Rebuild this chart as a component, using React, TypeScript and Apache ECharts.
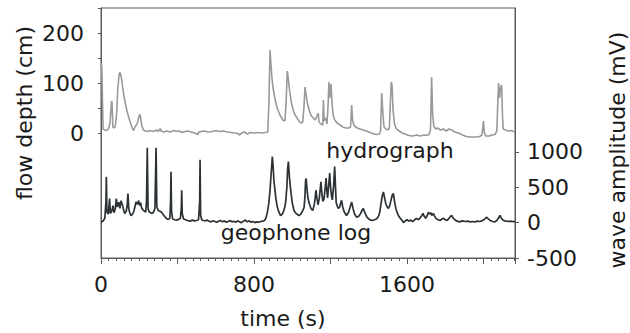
import React, { useEffect, useRef } from "react";
import * as echarts from "echarts";

// ---- data ----
const hydroTime = [0,4,8,11,20,30,40,47,55,58,62,68,75,82,88,95,100,106,113,120,128,136,146,156,165,171,177,185,192,199,204,208,214,222,232,245,258,272,290,300,310,314,330,345,360,380,395,410,425,440,455,470,490,505,512,525,540,560,580,600,620,640,660,680,700,715,725,735,750,765,780,800,820,840,860,872,878,884,889,894,900,908,916,926,936,945,950,962,968,974,979,986,995,1005,1015,1025,1035,1045,1055,1061,1067,1072,1080,1090,1100,1110,1120,1127,1136,1140,1150,1160,1163,1167,1172,1176,1182,1188,1192,1196,1203,1208,1214,1222,1235,1250,1265,1280,1295,1305,1311,1316,1325,1340,1355,1370,1380,1400,1420,1440,1455,1462,1468,1474,1480,1490,1500,1508,1513,1518,1522,1527,1535,1545,1560,1575,1590,1610,1630,1650,1670,1690,1700,1715,1723,1729,1734,1740,1750,1760,1775,1790,1805,1820,1835,1850,1870,1890,1910,1930,1950,1960,1980,1992,1996,2000,2004,2012,2030,2045,2060,2070,2075,2079,2084,2089,2095,2099,2103,2115,2130,2145,2165];
const hydroDepth = [140,132,60,8,6,5,9,20,64,60,12,10,14,40,90,118,121,112,92,74,58,44,30,18,8,5,12,16,22,34,37,28,14,6,4,3,5,3,6,3,9,4,2,4,2,5,3,4,1,3,4,2,0,-3,2,3,4,2,3,5,3,4,2,1,0,-1,-4,0,2,-2,1,0,1,0,1,2,60,166,136,110,90,72,58,45,36,30,26,24,60,124,110,86,62,46,36,30,24,20,22,50,92,78,58,44,34,30,26,32,40,22,18,16,66,24,28,30,18,60,102,70,98,60,36,26,20,16,12,10,10,12,56,24,14,10,8,6,5,2,-1,-3,-2,4,80,40,12,8,6,10,60,102,96,46,18,8,4,0,-2,-5,-6,-4,-6,-4,-5,-3,6,112,40,14,8,10,6,8,4,8,6,2,0,-4,-7,-8,-8,-8,-7,-4,8,24,2,-6,-6,-4,-3,4,60,100,70,90,96,40,8,6,4,5,2];

const geoTime = [0,10,20,26,28,31,38,45,49,56,63,68,75,80,85,93,99,105,112,118,124,132,137,141,145,151,157,165,172,178,183,190,197,202,207,213,220,228,234,238,242,246,252,260,268,275,282,288,292,300,308,317,326,335,343,352,360,364,366,369,375,385,395,405,415,420,422,425,432,442,452,465,478,490,500,510,516,518,521,527,535,545,555,565,575,585,595,605,615,625,635,645,655,665,675,685,695,705,715,725,735,745,755,765,775,785,795,805,815,825,835,845,855,862,870,877,884,890,896,900,904,908,914,922,930,939,948,956,962,966,972,976,980,985,992,1000,1009,1020,1035,1045,1055,1062,1066,1070,1073,1077,1082,1089,1098,1107,1115,1120,1124,1130,1135,1142,1150,1155,1160,1166,1172,1177,1181,1185,1190,1196,1200,1205,1210,1216,1222,1226,1230,1240,1248,1254,1258,1264,1272,1284,1295,1303,1311,1318,1326,1337,1348,1358,1366,1372,1378,1390,1400,1410,1420,1430,1440,1450,1458,1465,1471,1477,1483,1490,1497,1503,1510,1517,1523,1529,1535,1542,1549,1555,1565,1575,1581,1590,1600,1610,1620,1630,1640,1650,1660,1670,1678,1684,1690,1698,1706,1712,1718,1724,1730,1738,1745,1752,1762,1773,1783,1792,1800,1810,1820,1828,1834,1840,1850,1862,1877,1890,1905,1918,1930,1942,1955,1968,1980,1992,2002,2010,2017,2024,2035,2048,2060,2070,2078,2086,2092,2100,2110,2120,2130,2142,2155,2165];
const geoAmp = [10,20,60,300,647,150,120,340,130,160,240,140,200,340,220,290,200,310,250,180,130,160,250,410,200,130,100,120,160,230,290,260,310,240,280,200,180,160,150,300,1057,200,150,140,130,150,200,1057,220,170,160,145,110,80,57,45,60,300,719,150,50,40,35,45,60,200,457,120,50,40,30,20,35,25,30,40,300,886,100,40,30,25,35,20,10,25,15,5,20,30,10,25,5,15,30,10,20,5,25,10,0,20,35,10,25,5,15,0,10,5,15,20,30,60,147,260,457,700,933,800,600,504,350,219,150,100,120,170,230,300,500,760,862,650,457,280,171,130,100,120,170,214,350,600,620,480,350,270,200,171,250,350,457,330,250,350,576,420,300,330,480,629,450,350,500,700,520,380,320,500,790,520,280,200,220,280,314,220,150,100,150,220,290,200,120,76,90,130,180,200,150,80,50,35,30,40,50,80,150,280,380,433,350,260,220,200,240,320,390,410,300,200,140,100,60,30,0,20,40,20,35,15,40,60,40,70,100,130,90,60,100,147,120,140,100,130,90,60,40,30,50,60,40,30,60,90,100,70,40,20,10,25,15,20,10,15,10,20,15,25,40,60,76,55,30,15,10,30,60,100,70,40,25,20,15,20,15,14];

// axis ranges / tick labels
const timeMax = 2165;
const timeLabels = [0, 800, 1600];
const depthRange = [-250, 250];
const depthLabels = [0, 100, 200];
const ampRange = [-500, 3030];
const ampLabels = [-500, 0, 500, 1000];

const FONT = "DejaVu Sans";
const TXT = "#1a1a1a";
const AX = "#5a5a5a";

export default function App() {
  const ref = useRef<HTMLDivElement>(null);
  useEffect(() => {
    if (!ref.current) return;
    const chart = echarts.init(ref.current, undefined, { renderer: "svg" });
    const hydro = hydroTime.map((t, i) => [t, hydroDepth[i]]);
    const geo = geoTime.map((t, i) => [t, geoAmp[i]]);
    const labelStyle = { fontFamily: FONT, fontSize: 22, color: TXT };
    const hiddenX = (gridIndex: number) => ({ type: "value", gridIndex, min: 0, max: timeMax, show: false, axisLine: { onZero: false } });
    // grid 2 spans the labelled part of the right axis (-500 .. 1000)
    const plotH = 250;
    const ampPx = plotH / (ampRange[1] - ampRange[0]);
    const g2Top = 8 + (ampRange[1] - ampLabels[ampLabels.length - 1]) * ampPx;
    chart.setOption({
      animation: false,
      backgroundColor: "#ffffff",
      grid: [
        { left: 101, top: 8, right: 115, height: plotH, show: true, borderColor: AX, borderWidth: 1, backgroundColor: "transparent" },
        { left: 101, top: 8, right: 115, height: plotH / 2, show: false },
        { left: 101, top: g2Top, right: 115, height: 8 + plotH - g2Top, show: false },
      ],
      xAxis: [
        {
          type: "value", gridIndex: 0, min: 0, max: timeMax, interval: 40, position: "bottom",
          axisLine: { show: true, onZero: false, lineStyle: { color: AX, width: 1 } },
          axisTick: { show: true, length: 3, lineStyle: { color: AX } },
          axisLabel: { ...labelStyle, margin: 15, formatter: (v: number) => (timeLabels.includes(v) ? String(v) : "") },
          splitLine: { show: false },
        },
        {
          type: "value", gridIndex: 0, min: 0, max: timeMax, interval: 400, position: "bottom",
          axisLine: { show: false, onZero: false },
          axisTick: { show: true, length: 6, lineStyle: { color: AX } },
          axisLabel: { show: false },
          splitLine: { show: false },
        },
        hiddenX(1),
        hiddenX(2),
      ],
      yAxis: [
        {
          type: "value", gridIndex: 0, min: depthRange[0], max: depthRange[1], position: "left",
          axisLine: { show: true, onZero: false, lineStyle: { color: AX, width: 1 } },
          axisTick: { show: false }, axisLabel: { show: false }, splitLine: { show: false },
        },
        {
          type: "value", gridIndex: 0, min: ampRange[0], max: ampRange[1], position: "right",
          axisLine: { show: true, onZero: false, lineStyle: { color: AX, width: 1 } },
          axisTick: { show: false }, axisLabel: { show: false }, splitLine: { show: false },
        },
        {
          type: "value", gridIndex: 1, min: 0, max: depthRange[1], interval: 50, position: "left",
          axisLine: { show: false, onZero: false },
          axisTick: { show: true, length: 3, lineStyle: { color: AX } },
          axisLabel: { ...labelStyle, margin: 17, formatter: (v: number) => (depthLabels.includes(v) ? String(v) : "") },
          splitLine: { show: false },
        },
        {
          type: "value", gridIndex: 2, min: ampLabels[0], max: ampLabels[ampLabels.length - 1], interval: 500, position: "right",
          axisLine: { show: false, onZero: false },
          axisTick: { show: true, length: 4, lineStyle: { color: AX } },
          axisLabel: { ...labelStyle, margin: 12, formatter: (v: number) => String(v) },
          splitLine: { show: false },
        },
      ],
      series: [
        {
          name: "hydrograph", type: "line", xAxisIndex: 0, yAxisIndex: 0, data: hydro,
          showSymbol: false, symbol: "none", lineStyle: { color: "#999999", width: 1.6 }, z: 3,
        },
        {
          name: "geophone log", type: "line", xAxisIndex: 0, yAxisIndex: 1, data: geo,
          showSymbol: false, symbol: "none", lineStyle: { color: "#2b3236", width: 1.7 }, z: 4,
        },
      ],
      graphic: [
        { type: "text", x: 390, y: 150, style: { text: "hydrograph", fontFamily: FONT, fontSize: 22, fill: TXT, align: "center", verticalAlign: "middle" } },
        { type: "text", x: 296, y: 232, style: { text: "geophone log", fontFamily: FONT, fontSize: 22, fill: TXT, align: "center", verticalAlign: "middle" } },
        { type: "text", x: 283, y: 318, style: { text: "time (s)", fontFamily: FONT, fontSize: 22, fill: TXT, align: "center", verticalAlign: "middle" } },
        { type: "text", x: 24, y: 113, rotation: Math.PI / 2, style: { text: "flow depth (cm)", fontFamily: FONT, fontSize: 22, fill: TXT, align: "center", verticalAlign: "middle" } },
        { type: "text", x: 617, y: 150, rotation: Math.PI / 2, style: { text: "wave amplitude (mV)", fontFamily: FONT, fontSize: 22, fill: TXT, align: "center", verticalAlign: "middle" } },
      ],
    });
    return () => chart.dispose();
  }, []);
  return <div ref={ref} style={{ position: "fixed", left: 0, top: 0, width: 630, height: 333 }} />;
}
